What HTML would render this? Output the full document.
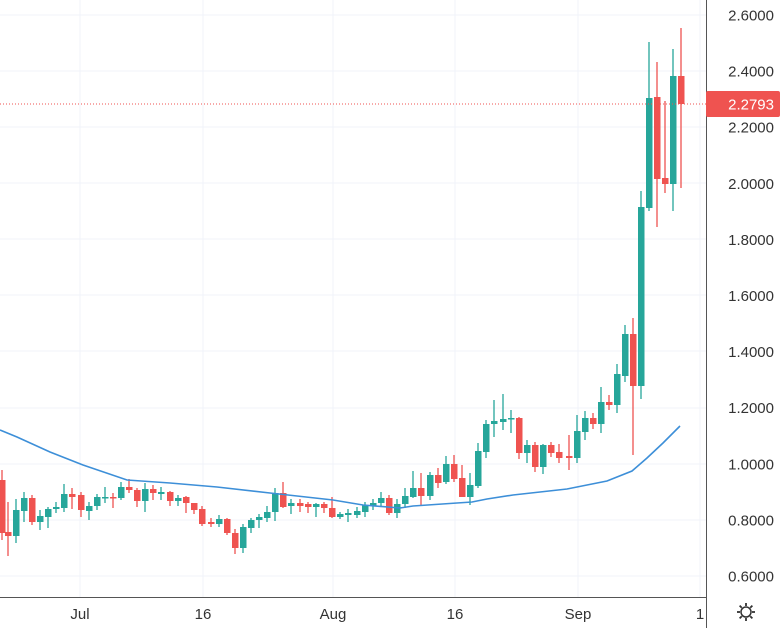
<!DOCTYPE html>
<html><head><meta charset="utf-8"><style>
html,body{margin:0;padding:0;background:#fff;}
svg{display:block;font-family:"Liberation Sans",sans-serif;}
</style></head><body>
<svg id="c" width="784" height="628" xmlns="http://www.w3.org/2000/svg"></svg>
<script>
var s='';
var T='#26a69a',R='#ef5350';
// grid
[15,71,127,183,239,295,351,408,464,520,576].forEach(function(y){s+='<line x1="0" x2="706" y1="'+y+'" y2="'+y+'" stroke="#f0f3fa" stroke-width="1"/>';});
[80,203,333,455,578,700].forEach(function(x){s+='<line x1="'+x+'" x2="'+x+'" y1="0" y2="597" stroke="#f0f3fa" stroke-width="1"/>';});
// candles x, top, bottom, hi, lo, color
var c=[
[2,480,533,470,540,R],[8,532,536,502,556,R],[16,510,536,499,543,T],[24,498,511,492,522,T],[32,498,522,495,525,R],
[40,516,522,510,530,T],[48,509,517,507,528,T],[56,507,509,502,513,T],[64,494,508,484,512,T],[72,494,497,488,509,R],
[81,495,510,492,517,R],[89,506,511,502,520,T],[97,497,506,494,510,T],[105,497,498,487,503,T],[113,497,498,493,508,R],
[121,487,498,482,500,T],[129,487,490,479,493,R],[137,490,501,488,507,R],[145,489,501,483,512,T],[153,489,493,485,500,R],
[161,492,494,487,500,T],[170,492,501,491,506,R],[178,498,501,495,506,T],[186,497,503,496,513,R],[194,503,510,505,514,R],
[202,509,524,506,526,R],[211,522,524,518,527,R],[219,519,524,515,527,T],[227,519,533,518,535,R],[235,533,548,529,554,R],
[243,527,548,524,553,T],[251,520,528,518,533,T],[259,517,520,514,528,T],[267,512,518,506,522,T],[275,493,512,488,521,T],
[283,493,507,482,508,R],[291,503,506,499,514,T],[300,503,506,499,512,R],[308,504,507,502,513,R],[316,504,507,503,517,T],
[324,504,508,502,513,R],[332,508,517,497,518,R],[340,514,517,512,519,T],[348,513,515,509,522,T],[357,511,515,507,518,T],
[365,505,512,502,517,T],[373,503,506,499,510,T],[381,498,503,492,507,T],[389,498,513,495,515,R],[397,504,513,499,518,T],
[405,496,504,488,508,T],[413,488,497,471,498,T],[421,488,496,473,505,R],[430,475,496,472,500,T],[438,475,483,468,488,R],
[446,464,482,456,484,T],[454,464,479,455,482,R],[462,478,497,465,497,R],[470,485,497,473,505,T],[478,451,486,443,488,T],
[486,424,452,420,458,T],[494,421,424,400,437,T],[503,419,422,394,430,T],[511,418,419,410,433,T],[519,418,453,417,459,R],
[527,445,453,440,463,T],[535,445,467,442,472,R],[543,445,467,444,474,T],[551,445,453,442,457,R],[559,452,458,444,463,R],
[569,456,458,435,470,R],[577,431,458,415,463,T],[585,418,432,411,440,T],[593,418,424,413,429,R],[601,402,424,387,433,T],
[609,402,405,395,410,R],[617,374,405,364,413,T],[625,334,376,325,382,T],[633,334,386,318,455,R],[641,207,386,191,399,T],
[649,98,208,42,211,T],[657,97,179,62,227,R],[665,178,184,101,193,R],[673,76,184,49,211,T],[681,76,104,28,188,R]
];
c.forEach(function(d){
 s+='<line x1="'+d[0]+'" x2="'+d[0]+'" y1="'+d[3]+'" y2="'+d[4]+'" stroke="'+d[5]+'" stroke-width="1.3"/>';
 var h=Math.max(1.5,d[2]-d[1]);
 s+='<rect x="'+(d[0]-3)+'" y="'+d[1]+'" width="6.5" height="'+h+'" fill="'+d[5]+'"/>';
});
// MA
var m=[[0,430],[17,437],[50,452],[83,465],[127,480],[170,483],[217,487],[270,493],[333,500],[363,505],[400,508],[413,506],[457,503],[472,502],[487,499],[513,495],[567,489],[607,481],[632,471],[647,458],[663,443],[680,426]];
s+='<polyline fill="none" stroke="#3d8fd8" stroke-width="1.6" points="'+m.map(function(p){return p.join(',')}).join(' ')+'"/>';
// price line
s+='<line x1="0" x2="706" y1="104" y2="104" stroke="#ef5350" stroke-width="1" stroke-dasharray="1,2"/>';
// axes
s+='<rect x="706" y="0" width="78" height="628" fill="#fff"/>';
s+='<rect x="0" y="597" width="784" height="31" fill="#fff"/>';
s+='<line x1="706.5" x2="706.5" y1="0" y2="628" stroke="#555" stroke-width="1"/>';
s+='<line x1="0" x2="706" y1="597.5" y2="597.5" stroke="#555" stroke-width="1"/>';
var L=['2.6000','2.4000','2.2000','2.0000','1.8000','1.6000','1.4000','1.2000','1.0000','0.8000','0.6000'];
L.forEach(function(t,i){var y=15+i*56.1;s+='<text x="774" y="'+(y+5.5)+'" text-anchor="end" font-size="15" fill="#333">'+t+'</text>';});
s+='<rect x="706" y="91" width="74" height="26" rx="2" fill="#ef5350"/>';
s+='<text x="774" y="109.5" text-anchor="end" font-size="15" fill="#fff">2.2793</text>';
[['Jul',80],['16',203],['Aug',333],['16',455],['Sep',578],['1',700]].forEach(function(d){s+='<text x="'+d[1]+'" y="619" text-anchor="middle" font-size="15" fill="#333">'+d[0]+'</text>';});
// gear
s+='<circle cx="746" cy="612" r="5" fill="none" stroke="#333" stroke-width="1.5"/>';
for(var a=0;a<8;a++){var r=a*Math.PI/4;s+='<line x1="'+(746+Math.cos(r)*6)+'" y1="'+(612+Math.sin(r)*6)+'" x2="'+(746+Math.cos(r)*9)+'" y2="'+(612+Math.sin(r)*9)+'" stroke="#333" stroke-width="1.8"/>';}
document.getElementById('c').innerHTML=s;
</script>
</body></html>
